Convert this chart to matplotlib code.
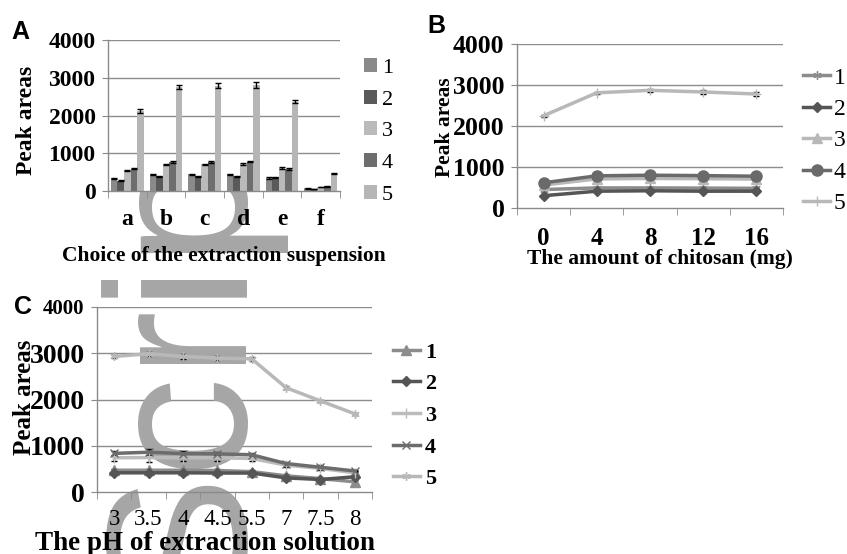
import matplotlib
matplotlib.use("Agg")
import matplotlib.pyplot as plt
import numpy as np
from matplotlib.ticker import FixedLocator

plt.rcParams['font.family'] = ['Liberation Serif', 'DejaVu Serif']

# ---------------- data ----------------
series_labels = ['1', '2', '3', '4', '5']

# Panel A
a_categories = ['a', 'b', 'c', 'd', 'e', 'f']
a_s1 = [335, 445, 445, 445, 345, 70]
a_s2 = [270, 390, 385, 395, 365, 55]
a_s3 = [540, 700, 705, 715, 615, 105]
a_s4 = [590, 770, 770, 780, 580, 125]
a_s5 = [2120, 2760, 2790, 2810, 2370, 470]
a_e1 = [15, 15, 15, 15, 15, 10]
a_e2 = [15, 15, 15, 15, 15, 10]
a_e3 = [20, 20, 20, 20, 20, 10]
a_e4 = [20, 20, 20, 20, 20, 10]
a_e5 = [60, 45, 60, 80, 40, 20]

# Panel B
b_categories = ['0', '4', '8', '12', '16']
b_s1 = [450, 490, 490, 485, 480]
b_s2 = [300, 410, 420, 410, 410]
b_s3 = [560, 710, 720, 715, 705]
b_s4 = [615, 785, 800, 790, 775]
b_s5 = [2250, 2810, 2870, 2830, 2780]
b_e1 = [20, 20, 20, 20, 20]
b_e2 = [20, 20, 20, 20, 20]
b_e3 = [20, 20, 20, 20, 20]
b_e4 = [25, 25, 25, 25, 25]
b_e5 = [30, 30, 40, 60, 50]

# Panel C
c_categories = ['3', '3.5', '4', '4.5', '5.5', '7', '7.5', '8']
c_s1 = [470, 470, 470, 465, 440, 350, 290, 220]
c_s2 = [415, 415, 415, 410, 410, 305, 270, 330]
c_s3 = [740, 745, 740, 740, 725, 580, 510, 415]
c_s4 = [835, 860, 830, 825, 805, 615, 535, 455]
c_s5 = [2930, 2990, 2930, 2895, 2880, 2255, 1970, 1690]
c_e1 = [30, 30, 30, 30, 30, 30, 30, 30]
c_e2 = [30, 30, 30, 30, 30, 30, 30, 30]
c_e3 = [60, 90, 80, 60, 60, 50, 40, 30]
c_e4 = [50, 70, 60, 50, 40, 40, 40, 30]
c_e5 = [40, 40, 60, 40, 40, 30, 30, 25]

y_ticks = [0, 1000, 2000, 3000, 4000]

# ---------------- style ----------------
W, H = 847, 554
fig = plt.figure(figsize=(W / 100, H / 100), dpi=100)

def frac(l, t, r, b):
    return [l / W, 1 - b / H, (r - l) / W, (b - t) / H]

axis_col = '#8a8a8a'
grid_col = '#8c8c8c'

def style_axes(ax, ncat, ytick_size, xtick_size, xtick_weight, xpad):
    ax.set_ylim(0, 4000)
    ax.set_xlim(-0.5, ncat - 0.5)
    ax.set_yticks(y_ticks)
    ax.set_yticklabels([str(v) for v in y_ticks], fontsize=ytick_size, fontweight='bold')
    for s in ['top', 'right']:
        ax.spines[s].set_visible(False)
    for s in ['left', 'bottom']:
        ax.spines[s].set_color(axis_col)
        ax.spines[s].set_linewidth(1.0)
    ax.tick_params(axis='y', length=4, color=axis_col, pad=5)
    ax.xaxis.set_minor_locator(FixedLocator(np.arange(ncat + 1) - 0.5))
    ax.tick_params(axis='x', which='major', length=0, pad=xpad,
                   labelsize=xtick_size)
    ax.tick_params(axis='x', which='minor', length=5, color=axis_col)
    for lab in ax.get_xticklabels():
        lab.set_fontweight(xtick_weight)

def manual_grid(ax):
    for v in y_ticks[1:]:
        ax.axhline(v, color=grid_col, lw=1.0, zorder=0.5)

# ---------------- Panel A ----------------
axA = fig.add_axes(frac(108, 40, 340, 191))
axA.set_zorder(5)
axA.set_facecolor('white')
bar_colors = ['#8a8a8a', '#5a5a5a', '#bababa', '#6e6e6e', '#b6b6b6']
a_vals = [a_s1, a_s2, a_s3, a_s4, a_s5]
a_errs = [a_e1, a_e2, a_e3, a_e4, a_e5]
xa = np.arange(len(a_categories))
bw = 0.17
for i, (vals, errs) in enumerate(zip(a_vals, a_errs)):
    axA.bar(xa + (i - 2) * bw, vals, width=bw, color=bar_colors[i],
            label=series_labels[i], zorder=2,
            yerr=errs, error_kw=dict(ecolor='black', elinewidth=1, capsize=2.5, capthick=1))
axA.set_xticks(xa)
axA.set_xticklabels(a_categories)
style_axes(axA, 6, 17, 17, 'bold', 13)
manual_grid(axA)
axA.set_xlabel('Choice of the extraction suspension', fontsize=15.5, fontweight='bold')
axA.xaxis.set_label_coords(0.5, -0.43)
axA.xaxis.label.set_va('center')
axA.set_ylabel('Peak areas', fontsize=17, fontweight='bold')
axA.yaxis.set_label_coords(-0.353, 0.47)
axA.yaxis.label.set_va('center')
fig.legend(*axA.get_legend_handles_labels(), loc='upper left',
           bbox_to_anchor=(364 / W, 1 - 58 / H), frameon=False,
           handlelength=0.6, handleheight=0.6, handletextpad=0.2,
           labelspacing=0.53, borderpad=0, borderaxespad=0, fontsize=16)

# ---------------- Panel B ----------------
axB = fig.add_axes(frac(517, 44, 783, 208))
b_vals = [b_s1, b_s2, b_s3, b_s4, b_s5]
b_errs = [b_e1, b_e2, b_e3, b_e4, b_e5]
b_cols = ['#8c8c8c', '#555555', '#b8b8b8', '#6a6a6a', '#b8b8b8']
b_marks = [(6, 2, 0), 'D', '^', 'o', '+']
b_msz = [6, 5.5, 7, 8, 7]
xb = np.arange(len(b_categories))
hB = []
for i in range(5):
    cont = axB.errorbar(xb, b_vals[i], yerr=b_errs[i], color=b_cols[i], lw=2.5,
                        marker=b_marks[i], markersize=b_msz[i], ecolor='black',
                        elinewidth=1, capsize=2.5, capthick=1,
                        label=series_labels[i], zorder=3)
    hB.append(cont[0])
axB.set_xticks(xb)
axB.set_xticklabels(b_categories)
style_axes(axB, 5, 18.5, 18, 'bold', 14)
manual_grid(axB)
axB.set_xlabel('The amount of chitosan (mg)', fontsize=15.5, fontweight='bold')
axB.xaxis.set_label_coords(0.538, -0.31)
axB.xaxis.label.set_va('center')
axB.set_ylabel('Peak areas', fontsize=15.5, fontweight='bold')
axB.yaxis.set_label_coords(-0.271, 0.494)
axB.yaxis.label.set_va('center')
fig.legend(hB, series_labels, loc='upper left', bbox_to_anchor=(803 / W, 1 - 67 / H),
           frameon=False, handlelength=1.15, handletextpad=0.15,
           labelspacing=0.42, borderpad=0, borderaxespad=0, fontsize=17)

# ---------------- Panel C ----------------
axC = fig.add_axes(frac(97, 307, 372, 492))
axC.set_facecolor('none')
c_vals = [c_s1, c_s2, c_s3, c_s4, c_s5]
c_errs = [c_e1, c_e2, c_e3, c_e4, c_e5]
c_cols = ['#8c8c8c', '#555555', '#bcbcbc', '#6c6c6c', '#b8b8b8']
c_marks = ['^', 'D', '|', 'x', (6, 2, 0)]
c_msz = [7, 5.5, 7, 6, 6]
xc = np.arange(len(c_categories))
hC = []
for i in range(5):
    cont = axC.errorbar(xc, c_vals[i], yerr=c_errs[i], color=c_cols[i], lw=2.5,
                        marker=c_marks[i], markersize=c_msz[i], ecolor='black',
                        elinewidth=1, capsize=2.5, capthick=1,
                        label=series_labels[i], zorder=3)
    hC.append(cont[0])
axC.set_xticks(xc)
axC.set_xticklabels(c_categories)
style_axes(axC, 8, 20, 16.5, 'normal', 12)
axC.get_yticklabels()[-1].set_fontsize(15)
manual_grid(axC)
axC.set_xlabel('The pH of extraction solution', fontsize=19.5, fontweight='bold')
axC.xaxis.set_label_coords(0.393, -0.28)
axC.xaxis.label.set_va('center')
axC.set_ylabel('Peak areas', fontsize=18, fontweight='bold')
axC.yaxis.set_label_coords(-0.265, 0.514)
axC.yaxis.label.set_va('center')
fig.legend(hC, series_labels, loc='upper left', bbox_to_anchor=(393 / W, 1 - 342 / H),
           frameon=False, handlelength=1.2, handletextpad=0.25,
           labelspacing=0.5, borderpad=0, borderaxespad=0,
           prop=dict(size=16, weight='bold'))

# watermark
axC.text(238 / W, (H - 600) / H, 'Script', transform=fig.transFigure,
         rotation=90, rotation_mode='anchor', ha='left', va='baseline',
         fontsize=144, family='Liberation Sans', color='#a6a6a6',
         clip_on=False, zorder=1)

# panel letters
for letter, (px, py) in {'A': (11, 39), 'B': (427, 33), 'C': (14, 314)}.items():
    fig.text(px / W, 1 - py / H, letter, fontsize=18, fontweight='bold',
             family='Liberation Sans', ha='left', va='baseline')

fig.savefig('out.png', dpi=100)
